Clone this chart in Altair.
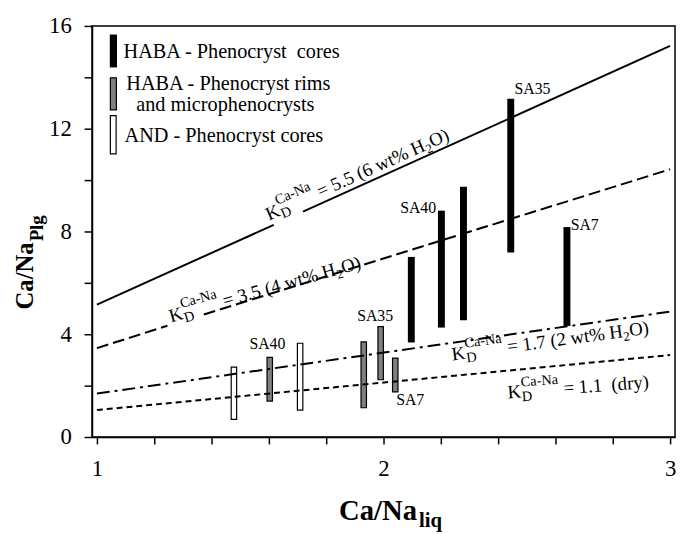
import altair as alt
import pandas as pd

FONT = "Liberation Serif"

# ---------------- data ----------------
# partition lines: Ca/Na liq (x) vs Ca/Na plg (y); seg = piece of the line (gap where the label sits)
k55_x = [1.0, 1.617, 1.719, 3.0]
k55_y = [5.15, 8.26, 8.77, 15.22]
k55_seg = [0, 0, 1, 1]
k35_x = [1.0, 1.246, 1.373, 3.0]
k35_y = [3.46, 4.33, 4.77, 10.42]
k35_seg = [0, 0, 1, 1]
k17_x = [1.0, 3.0]
k17_y = [1.69, 4.88]
k11_x = [1.0, 3.0]
k11_y = [1.05, 3.19]

# HABA phenocryst cores (black bars)
core_x = [2.097, 2.202, 2.279, 2.444, 2.640]
core_lo = [3.68, 4.26, 4.54, 7.18, 4.32]
core_hi = [7.01, 8.81, 9.74, 13.17, 8.17]
# HABA phenocryst rims and microphenocrysts (grey bars)
rim_x = [1.603, 1.931, 1.990, 2.041]
rim_lo = [1.40, 1.14, 2.23, 1.76]
rim_hi = [3.10, 3.70, 4.30, 3.07]
# AND phenocryst cores (white bars)
and_x = [1.478, 1.709]
and_lo = [0.69, 1.05]
and_hi = [2.72, 3.65]

# sample labels
sa_text = ["SA35", "SA40", "SA7", "SA40", "SA35", "SA7"]
sa_x = [2.457, 2.058, 2.653, 1.532, 1.908, 2.044]
sa_y = [13.35, 8.73, 8.04, 3.42, 4.50, 1.23]

# K_D labels along the lines
kd_main = ["= 5.5 (6 wt% H", "= 3.5 (4 wt% H", "= 1.7 (2 wt% H", "= 1.1\u00a0 (dry)"]
kd_tail = ["O)", "O)", "O)", ""]
kd_x = [1.600, 1.258, 2.241, 2.434]
kd_y = [8.42, 4.46, 2.98, 1.50]
kd_slope_deg = [24.1, 15.9, 7.8, 4.3]

x_ticks = [1, 1.2, 1.4, 1.6, 1.8, 2, 2.2, 2.4, 2.6, 2.8, 3]
y_ticks = [0, 2, 4, 6, 8, 10, 12, 14, 16]

legend_text = ["HABA - Phenocryst\u00a0 cores", "HABA - Phenocryst rims",
               "and microphenocrysts", "AND - Phenocryst cores"]

# ---------------- helpers ----------------
TW = {' ': 250, '\u00a0': 250, '(': 333, ')': 333, '%': 833, '-': 333, '.': 250, '=': 564,
      'A': 722, 'C': 667, 'D': 722, 'H': 722, 'K': 722, 'N': 722, 'O': 722,
      'a': 444, 'd': 500, 'r': 333, 't': 278, 'w': 722, 'y': 500}
for c in "0123456789":
    TW[c] = 500


def tw(s, size):
    return sum(TW.get(c, 500) for c in s) * size / 1000.0


xs = alt.Scale(domain=[1, 3], nice=False, zero=False)
ys = alt.Scale(domain=[0, 16], nice=False, zero=False)
xaxis = alt.Axis(
    values=x_ticks, title=None, grid=False, tickSize=7, tickWidth=1.5,
    tickColor="black", domainColor="black", domainWidth=1.5,
    labelFont=FONT, labelFontSize=23, labelColor="black", labelPadding=14,
    labelFlush=False, labelOverlap=False,
    labelExpr="datum.value % 1 == 0 ? format(datum.value, 'd') : ''")
yaxis = alt.Axis(
    values=y_ticks, title=None, grid=False, tickSize=8, tickWidth=1.5,
    tickColor="black", domainColor="black", domainWidth=1.5,
    labelFont=FONT, labelFontSize=23, labelColor="black", labelPadding=13,
    labelFlush=False, labelOverlap=False,
    labelExpr="datum.value % 4 == 0 ? format(datum.value, 'd') : ''")


def XN(f="x"):
    return alt.X(f"{f}:Q", scale=xs, axis=xaxis)


def YN(f="y"):
    return alt.Y(f"{f}:Q", scale=ys, axis=yaxis)


layers = []

# outlined bars (under the lines)
rim_df = pd.DataFrame({"x": rim_x, "lo": rim_lo, "hi": rim_hi})
and_df = pd.DataFrame({"x": and_x, "lo": and_lo, "hi": and_hi})
layers.append(alt.Chart(rim_df).mark_bar(size=5.5, fill="#808080", stroke="black", strokeWidth=1.2)
              .encode(x=XN(), y=YN("hi"), y2="lo:Q"))
layers.append(alt.Chart(and_df).mark_bar(size=5.5, fill="white", stroke="black", strokeWidth=1.2)
              .encode(x=XN(), y=YN("hi"), y2="lo:Q"))


# lines
def line_layer(xv, yv, seg, dash):
    df = pd.DataFrame({"x": xv, "y": yv, "seg": seg})
    kw = dict(color="black", strokeWidth=2)
    if dash:
        kw["strokeDash"] = dash
    return alt.Chart(df).mark_line(**kw).encode(x=XN(), y=YN(), detail="seg:N", order="x:Q")


layers.append(line_layer(k55_x, k55_y, k55_seg, None))
layers.append(line_layer(k35_x, k35_y, k35_seg, [12, 5]))
layers.append(line_layer(k17_x, k17_y, [0, 0], [13, 5, 3, 5]))
layers.append(line_layer(k11_x, k11_y, [0, 0], [6, 4]))

# black bars
core_df = pd.DataFrame({"x": core_x, "lo": core_lo, "hi": core_hi})
layers.append(alt.Chart(core_df).mark_bar(size=7, fill="black")
              .encode(x=XN(), y=YN("hi"), y2="lo:Q"))

# sample labels
sa_df = pd.DataFrame({"x": sa_x, "y": sa_y, "t": sa_text})
layers.append(alt.Chart(sa_df).mark_text(font=FONT, fontSize=16, align="left", baseline="alphabetic",
                                         color="black")
              .encode(x=XN(), y=YN(), text="t:N"))

# K_D labels
F, f, f2 = 19, 14.5, 13
for i in range(len(kd_main)):
    df = pd.DataFrame({"x": [kd_x[i]], "y": [kd_y[i]]})
    ang = 360 - kd_slope_deg[i]
    wK = tw("K", F) + 0.5
    wsup = tw("Ca-Na", f)
    d_main = wK + wsup + tw(" ", F)
    d_two = d_main + tw(kd_main[i], F)
    d_tail = d_two + tw("2", f2)
    pieces = [("K", F, 0, 0), ("D", f, wK, 4), ("Ca-Na", f, wK, -11), (kd_main[i], F, d_main, 0)]
    if kd_tail[i]:
        pieces += [("2", f2, d_two, 4), (kd_tail[i], F, d_tail, 0)]
    for txt, size, dx, dy in pieces:
        layers.append(alt.Chart(df).mark_text(
            font=FONT, fontSize=size, align="left", baseline="alphabetic", color="black",
            angle=ang, dx=dx, dy=dy, text=txt).encode(x=XN(), y=YN()))

# legend (custom, pixel placed inside the plot)
one = pd.DataFrame({"a": [0]})


def rect(x1, x2, y1, y2, fill, stroke=None):
    kw = dict(fill=fill)
    if stroke:
        kw.update(stroke=stroke, strokeWidth=1.2)
    return alt.Chart(one).mark_rect(**kw).encode(
        x=alt.value(x1), x2=alt.value(x2), y=alt.value(y1), y2=alt.value(y2))


layers.append(rect(18, 25.3, 8.7, 42, "black"))
layers.append(rect(18.6, 24.7, 52.5, 85, "#808080", "black"))
layers.append(rect(18.6, 24.4, 90.8, 129.4, "white", "black"))


def label(txt, x, y, size, bold=False, angle=None, dx=0, dy=0):
    kw = dict(font=FONT, fontSize=size, align="left", baseline="alphabetic", color="black",
              text=txt, dx=dx, dy=dy)
    if bold:
        kw["fontWeight"] = "bold"
    if angle is not None:
        kw["angle"] = angle
    return alt.Chart(one).mark_text(**kw).encode(x=alt.value(x), y=alt.value(y))


layers.append(label(legend_text[0], 32, 32.5, 20.5))
layers.append(label(legend_text[1], 34.7, 65, 20.5))
layers.append(label(legend_text[2], 44.7, 86.5, 20.5))
layers.append(label(legend_text[3], 33, 117, 20.5))

# axis titles with subscripts
layers.append(label("Ca/Na", 250, 500, 29, bold=True))
layers.append(label("liq", 250, 500, 21, bold=True, dx=81, dy=7))
layers.append(label("Ca/Na", -60, 287, 25, bold=True, angle=270))
layers.append(label("Plg", -60, 287, 19, bold=True, angle=270, dx=69, dy=10))

chart = alt.layer(*layers).properties(
    width=590, height=416,
    autosize=alt.AutoSizeParams(type="none"),
    padding={"left": 85, "top": 15, "right": 3, "bottom": 95},
).configure_view(stroke="black", strokeWidth=1.5)

chart.save("out.html", embed_options={"renderer": "svg", "actions": False})
